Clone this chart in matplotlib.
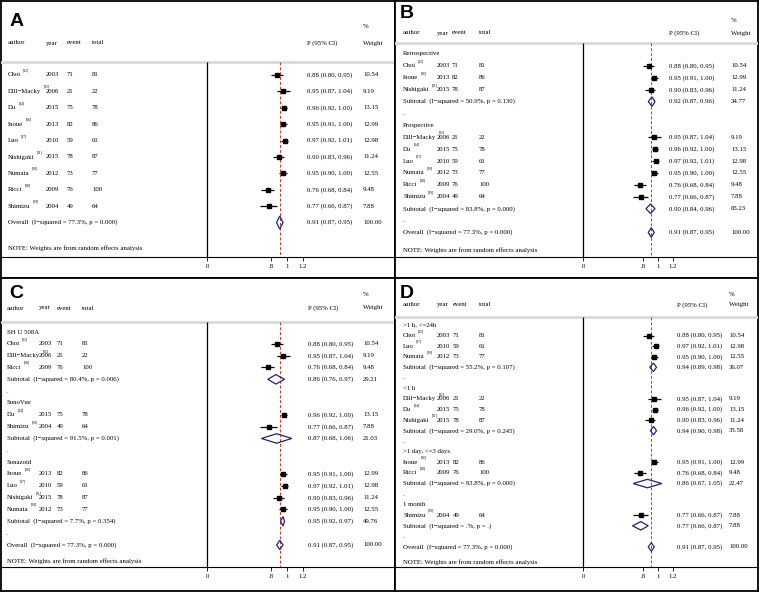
import matplotlib.pyplot as plt
from matplotlib.patches import Polygon
from matplotlib.transforms import blended_transform_factory

plt.rcParams['font.family'] = ['Liberation Serif', 'DejaVu Serif']

# study level data (same 9 studies in every panel)
authors = ['Choi', 'Dill\u2212Macky', 'Du', 'Inoue', 'Luo', 'Nishigaki', 'Numata', 'Ricci', 'Shimizu']
refs = ['[12]', '[15]', '[14]', '[16]', '[17]', '[11]', '[20]', '[18]', '[19]']
years = [2003, 2006, 2015, 2013, 2010, 2015, 2012, 2009, 2004]
events = [71, 21, 75, 82, 59, 78, 73, 76, 49]
totals = [81, 22, 78, 86, 61, 87, 77, 100, 64]
est = [0.88, 0.95, 0.96, 0.95, 0.97, 0.90, 0.95, 0.76, 0.77]
lo = [0.80, 0.87, 0.92, 0.91, 0.92, 0.83, 0.90, 0.68, 0.66]
hi = [0.95, 1.04, 1.00, 1.00, 1.01, 0.96, 1.00, 0.84, 0.87]
weights = [10.54, 9.19, 13.15, 12.99, 12.98, 11.24, 12.55, 9.48, 7.88]

overall = (0.91, 0.87, 0.95)
overall_i2, overall_p = '77.3', '0.000'

# B: study design
groups_b = ['Retrospective', 'Prospective']
members_b = [[0, 3, 5], [1, 2, 4, 6, 7, 8]]
sub_est_b = [0.92, 0.90]
sub_lo_b = [0.87, 0.84]
sub_hi_b = [0.96, 0.96]
sub_w_b = [34.77, 65.23]
sub_i2_b = ['50.9', '83.8']
sub_p_b = ['0.130', '0.000']

# C: contrast agent
groups_c = ['SH U 508A', 'SonoVue', 'Sonazoid']
members_c = [[0, 1, 7], [2, 8], [3, 4, 5, 6]]
sub_est_c = [0.86, 0.87, 0.95]
sub_lo_c = [0.76, 0.68, 0.92]
sub_hi_c = [0.97, 1.06, 0.97]
sub_w_c = [29.21, 21.03, 49.76]
sub_i2_c = ['80.4', '91.5', '7.7']
sub_p_c = ['0.006', '0.001', '0.354']

# D: time of follow-up
groups_d = ['>1 h, <=24h', '<1 h', '>1 day, <=3 days', '1 month']
members_d = [[0, 4, 6], [1, 2, 5], [3, 7], [8]]
sub_est_d = [0.94, 0.94, 0.86, 0.77]
sub_lo_d = [0.89, 0.90, 0.67, 0.66]
sub_hi_d = [0.98, 0.98, 1.05, 0.87]
sub_w_d = [36.07, 33.58, 22.47, 7.88]
sub_i2_d = ['55.2', '29.0', '93.8', '.']
sub_p_d = ['0.107', '0.245', '0.000', '.']

tick_vals = [0, 0.8, 1, 1.2]
tick_labels = ['0', '.8', '1', '1.2']

W, H = 760, 593
fig = plt.figure(figsize=(7.6, 5.93), dpi=100)
FS = 4.9
NAVY = '#23236e'
RED = '#c0392b'


def fmt_ci(e, l, h):
    return f'{e:.2f} ({l:.2f}, {h:.2f})'


def panel(letter, lay, groups=None, members=None, sub=None):
    left, top, right, bottom = lay['box']
    # frame
    fr = fig.add_axes([left / W, 1 - bottom / H, (right - left) / W, (bottom - top) / H])
    fr.set_xticks([]); fr.set_yticks([])
    for s in fr.spines.values():
        s.set_linewidth(1.3)
    # forest area: bottom spine is the x axis line
    ax = fig.add_axes([left / W, 1 - lay['axis'] / H, (right - left) / W, (lay['axis'] - top) / H])
    ax.patch.set_alpha(0)
    for s in ['top', 'left', 'right']:
        ax.spines[s].set_visible(False)
    ax.spines['bottom'].set_linewidth(0.8)
    ax.set_yticks([])
    ax.set_xticks(tick_vals)
    ax.set_xticklabels(tick_labels)
    ax.tick_params(axis='x', direction='out', length=3, width=0.6, labelsize=FS, pad=2)
    ax.set_xlim((left - lay['zero']) / lay['ppu'], (right - lay['zero']) / lay['ppu'])
    first, step = lay['first'], lay['step']
    py = lambda p: (p - first) / step
    ax.set_ylim(py(lay['axis']), py(top))
    tr = blended_transform_factory(ax.transAxes, ax.transData)
    px = lambda p: (p - left) / (right - left)

    def txt(xpix, y, s, **kw):
        return ax.text(px(xpix), y, s, transform=tr, fontsize=FS, va='center', ha='left', **kw)

    c_name, c_year, c_event, c_total = lay['cols']
    # header
    hy = py(lay['head'])
    for xp, s in zip(lay['cols'], ['author', 'year', 'event', 'total']):
        txt(xp, hy, s)
    txt(lay['pcol'], hy, 'P (95% CI)')
    txt(lay['wcol'], hy, 'Weight')
    txt(lay['wcol'], py(lay['pct']), '%')
    ax.axhline(py(lay['rule']), color='#d9d9d9', lw=2)

    # rows
    rows = []
    if groups is None:
        rows += [('study', i) for i in range(len(authors))]
    else:
        for k, g in enumerate(groups):
            rows.append(('label', g))
            rows += [('study', i) for i in members[k]]
            rows.append(('sub', k))
            rows.append(('dot', None))
    rows.append(('overall', None))

    def diamond(y, e, l, h):
        ax.add_patch(Polygon([(l, y), (e, y - 0.4), (h, y), (e, y + 0.4)], closed=True,
                             fill=False, edgecolor=NAVY, lw=0.9, zorder=4))

    for r, (kind, v) in enumerate(rows):
        if kind == 'label':
            txt(c_name, r, v)
        elif kind == 'dot':
            txt(c_name, r, '.')
        elif kind == 'study':
            t = txt(c_name, r, authors[v])
            ax.annotate(refs[v], xy=(1, 1), xycoords=t, xytext=(1.5, 0),
                        textcoords='offset points', fontsize=2.6, va='bottom', ha='left')
            txt(c_year, r, str(years[v]))
            txt(c_event, r, str(events[v]))
            txt(c_total, r, str(totals[v]))
            txt(lay['pcol'], r, fmt_ci(est[v], lo[v], hi[v]))
            txt(lay['wcol'], r, f'{weights[v]:.2f}')
            ax.hlines(r, lo[v], hi[v], color='black', lw=0.9, zorder=3)
            ax.plot(est[v], r, marker='s', ms=2.2, color='black', zorder=4)
        elif kind == 'sub':
            e, l, h, w, i2, p = [s[v] for s in sub]
            txt(c_name, r, f'Subtotal  (I\u2212squared = {i2}%, p = {p})')
            txt(lay['pcol'], r, fmt_ci(e, l, h))
            txt(lay['wcol'], r, f'{w:.2f}')
            diamond(r, e, l, h)
        else:
            txt(c_name, r, f'Overall  (I\u2212squared = {overall_i2}%, p = {overall_p})')
            txt(lay['pcol'], r, fmt_ci(*overall))
            txt(lay['wcol'], r, '100.00')
            diamond(r, *overall)

    txt(c_name, py(lay['note']), 'NOTE: Weights are from random effects analysis')
    ax.vlines(0, py(lay['rule']), py(lay['axis']), color='black', lw=0.9)
    ax.vlines(overall[0], py(lay['rule']), py(lay['axis']), colors=RED, lw=0.7,
              linestyles=(0, (3, 2)), zorder=2)
    lx, ly = lay['letter']
    fig.text(lx / W, 1 - ly / H, letter, fontsize=14, fontweight='bold',
             family=['Liberation Sans', 'DejaVu Sans'], ha='center', va='center')


lay_a = dict(box=(1, 1, 395, 278), zero=207, ppu=80, first=75, step=16.4, pct=27, head=43,
             rule=62, note=248, axis=257, cols=(8, 46, 67, 92), pcol=307, wcol=363, letter=(17, 21))
lay_b = dict(box=(395, 1, 758, 278), zero=583, ppu=75, first=54, step=11.9, pct=21, head=33,
             rule=43, note=250, axis=257, cols=(403, 437, 452, 479), pcol=669, wcol=731, letter=(407, 14))
lay_c = dict(box=(1, 278, 395, 591), zero=207, ppu=80, first=332, step=11.83, pct=295, head=308,
             rule=322, note=561, axis=567, cols=(7, 39, 57, 82), pcol=308, wcol=363, letter=(16, 293))
lay_d = dict(box=(395, 278, 758, 591), zero=583, ppu=75, first=325, step=10.57, pct=295, head=305,
             rule=317, note=562, axis=567, cols=(403, 437, 453, 479), pcol=677, wcol=729, letter=(407, 293))

panel('A', lay_a)
panel('B', lay_b, groups_b, members_b,
      [sub_est_b, sub_lo_b, sub_hi_b, sub_w_b, sub_i2_b, sub_p_b])
panel('C', lay_c, groups_c, members_c,
      [sub_est_c, sub_lo_c, sub_hi_c, sub_w_c, sub_i2_c, sub_p_c])
panel('D', lay_d, groups_d, members_d,
      [sub_est_d, sub_lo_d, sub_hi_d, sub_w_d, sub_i2_d, sub_p_d])

fig.savefig('out.png', dpi=100)
